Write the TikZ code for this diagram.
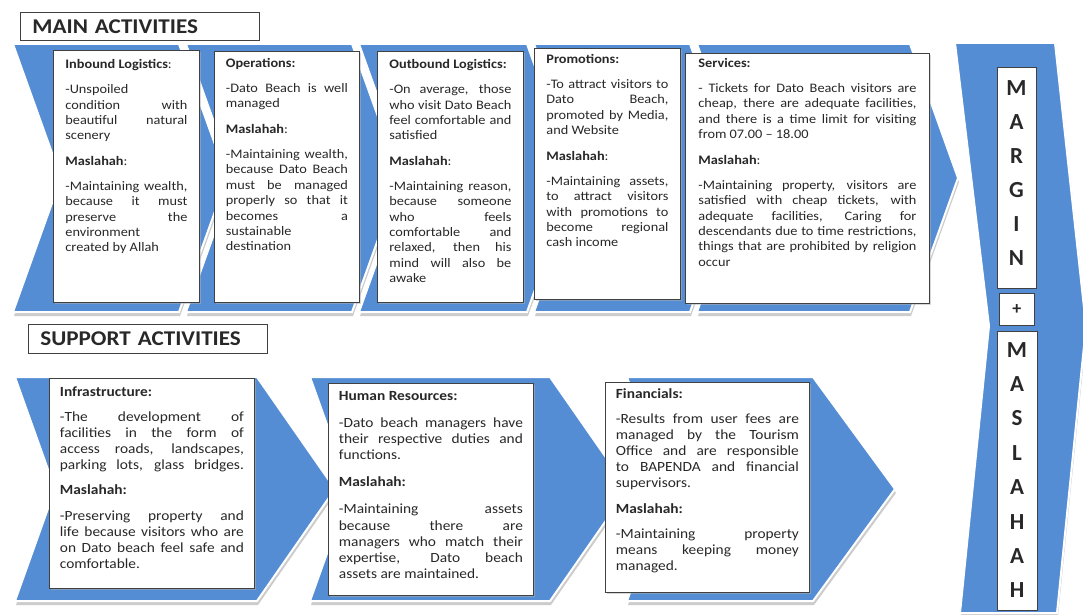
\documentclass[tikz,border=0pt]{standalone}
\usepackage{fontspec}
\setmainfont{Carlito}[FakeStretch=1.1]
\newfontfamily\letterfont{Carlito}
\usetikzlibrary{shadows}
\definecolor{cblue}{RGB}{84,141,212}
\definecolor{cborder}{RGB}{64,64,64}
\definecolor{ctext}{RGB}{40,40,40}
\newcommand\jl[1]{\makebox[\linewidth][s]{#1}}
% #1 height, #2 width, #3 first baseline, #4 font size, #5 baselineskip, #6 parskip, #7 text
\newcommand\cbody[7]{\parbox[c][#1pt][t]{#2pt}{\fontsize{#4}{#5}\selectfont\setlength{\parskip}{#6pt}\rule{0pt}{#3pt}#7}}
% #1 xL, #2 xR, #3 yTop, #4 yBottom, #5 notch depth, #6 tip depth
\newcommand\chev[6]{%
  \fill[chevshadow,xshift=1pt,yshift=-4pt] (#1,#3) -- (#2,#3) -- (#2+#6,{(#3+#4)/2}) -- (#2,#4) -- (#1,#4) -- (#1+#5,{(#3+#4)/2}) -- cycle;
  \filldraw[chevron] (#1,#3) -- (#2,#3) -- (#2+#6,{(#3+#4)/2}) -- (#2,#4) -- (#1,#4) -- (#1+#5,{(#3+#4)/2}) -- cycle;}
\begin{document}
\begin{tikzpicture}[x=1pt,y=-1pt,
  chevron/.style={fill=cblue,draw=white,line width=2pt,line join=miter},
  chevshadow/.style={fill=gray!40},
  cbox/.style={draw=cborder,fill=white,line width=0.8pt,text=ctext,inner ysep=0pt,anchor=north west,
     drop shadow={shadow xshift=1.2pt,shadow yshift=-1.2pt,fill=gray!60}},
  titlebox/.style={draw=cborder,fill=white,line width=0.8pt,text=ctext,inner ysep=0pt,inner xsep=12pt,
     anchor=north west,align=left,font=\fontsize{21}{24}\selectfont\bfseries},
  lbox/.style={draw=cborder,fill=white,line width=0.8pt,anchor=north west},
  letters/.style={inner sep=0pt,anchor=north,text=ctext,font=\letterfont\bfseries}]
\useasboundingbox (0,0) rectangle (1083,615);
\fill[white] (0,0) rectangle (1083,615);

% top row chevrons
\chev{13}{179}{44}{312}{48}{48}
\chev{186}{352}{44}{312}{48}{48}
\chev{359}{527}{44}{312}{48}{48}
\chev{534}{690}{44}{312}{48}{48}
\chev{697}{910}{44}{312}{48}{48}
% bottom row chevrons
\chev{15}{257}{377}{601}{40}{78}
\chev{310}{550}{377}{601}{40}{78}
\chev{627}{813}{377}{601}{40}{82}
% right shape
\fill[chevshadow,xshift=1pt,yshift=-3pt] (955,43) -- (1055,43) -- (1086,326) -- (1057,613) -- (960,613) -- (989,326) -- cycle;
\filldraw[chevron] (955,43) -- (1055,43) -- (1086,326) -- (1057,613) -- (960,613) -- (989,326) -- cycle;

% titles
\node[titlebox,minimum width=239pt,minimum height=28pt,text width=215pt] (main) at (20,12) {MAIN ACTIVITIES};
\node[titlebox,minimum width=239pt,minimum height=29pt,text width=215pt] (support) at (28,324) {SUPPORT ACTIVITIES};

% top boxes
\node[cbox,inner xsep=12pt] (inb) at (53,50) {\cbody{252}{122}{18}{13}{15.4}{9.8}{%
\textbf{Inbound Logistics}:\par
-Unspoiled\\ \jl{condition with}\\ \jl{beautiful natural}\\ scenery\par
\textbf{Maslahah}:\par
\jl{-Maintaining wealth,}\\ \jl{because it must}\\ \jl{preserve the}\\ environment\\ created by Allah}};

\node[cbox,inner xsep=11.5pt] (ops) at (214,51) {\cbody{251}{122}{16}{13}{15.4}{9.8}{%
\textbf{Operations:}\par
\jl{-Dato Beach is well}\\ managed\par
\textbf{Maslahah}:\par
\jl{-Maintaining wealth,}\\ \jl{because Dato Beach}\\ \jl{must be managed}\\ \jl{properly so that it}\\ \jl{becomes a}\\ sustainable\\ destination}};

\node[cbox,inner xsep=12pt] (out) at (377,51) {\cbody{251}{122}{17}{13}{15.4}{9.8}{%
\textbf{Outbound Logistics:}\par
\jl{-On average, those}\\ \jl{who visit Dato Beach}\\ \jl{feel comfortable and}\\ satisfied\par
\textbf{Maslahah}:\par
\jl{-Maintaining reason,}\\ \jl{because someone}\\ \jl{who feels}\\ \jl{comfortable and}\\ \jl{relaxed, then his}\\ \jl{mind will also be}\\ awake}};

\node[cbox,inner xsep=12pt] (prom) at (534,48) {\cbody{251}{122}{15}{13}{15.4}{9.8}{%
\textbf{Promotions:}\par
\jl{-To attract visitors to}\\ \jl{Dato Beach,}\\ \jl{promoted by Media,}\\ and Website\par
\textbf{Maslahah}:\par
\jl{-Maintaining assets,}\\ \jl{to attract visitors}\\ \jl{with promotions to}\\ \jl{become regional}\\ cash income}};

\node[cbox,inner xsep=13pt] (serv) at (685,53) {\cbody{250}{218}{14}{13}{15.4}{9.8}{%
\textbf{Services:}\par
\jl{- Tickets for Dato Beach visitors are}\\ \jl{cheap, there are adequate facilities,}\\ \jl{and there is a time limit for visiting}\\ from 07.00 – 18.00\par
\textbf{Maslahah}:\par
\jl{-Maintaining property, visitors are}\\ \jl{satisfied with cheap tickets, with}\\ \jl{adequate facilities, Caring for}\\ \jl{descendants due to time restrictions,}\\ \jl{things that are prohibited by religion}\\ occur}};

% bottom boxes
\node[cbox,inner xsep=10.5pt] (inf) at (49,378) {\cbody{210}{184}{18}{14}{16.1}{9}{%
\textbf{Infrastructure:}\par
\jl{-The development of}\\ \jl{facilities in the form of}\\ \jl{access roads, landscapes,}\\ \jl{parking lots, glass bridges.}\par
\textbf{Maslahah:}\par
\jl{-Preserving property and}\\ \jl{life because visitors who are}\\ \jl{on Dato beach feel safe and}\\ comfortable.}};

\node[cbox,inner xsep=10.5pt] (hr) at (328,383) {\cbody{212}{184}{17}{14}{16.1}{11}{%
\textbf{Human Resources:}\par
\jl{-Dato beach managers have}\\ \jl{their respective duties and}\\ functions.\par
\textbf{Maslahah:}\par
\jl{-Maintaining assets}\\ \jl{because there are}\\ \jl{managers who match their}\\ \jl{expertise, Dato beach}\\ assets are maintained.}};

\node[cbox,inner xsep=10.5pt] (fin) at (605,382) {\cbody{210}{183}{16}{14}{16.1}{9}{%
\textbf{Financials:}\par
\jl{-Results from user fees are}\\ \jl{managed by the Tourism}\\ \jl{Office and are responsible}\\ \jl{to BAPENDA and financial}\\ supervisors.\par
\textbf{Maslahah:}\par
\jl{-Maintaining property}\\ \jl{means keeping money}\\ managed.}};

% margin + maslahah column
\node[lbox,minimum width=39pt,minimum height=221pt] (margin) at (997,67) {};
\node[letters] (margintext) at (1016.5,80) {\parbox[t]{30pt}{\centering\fontsize{23}{34}\selectfont M\\A\\R\\G\\I\\N}};
\node[lbox,minimum width=35pt,minimum height=32pt] (plusbox) at (999,293) {};
\node[letters,anchor=center,font=\letterfont\bfseries\fontsize{18}{20}\selectfont] (plus) at (plusbox.center) {+};
\node[lbox,minimum width=40pt,minimum height=279pt] (maslahah) at (997,331) {};
\node[letters] (maslahahtext) at (1017,342) {\parbox[t]{30pt}{\centering\fontsize{23}{34.4}\selectfont M\\A\\S\\L\\A\\H\\A\\H}};
\end{tikzpicture}
\end{document}
